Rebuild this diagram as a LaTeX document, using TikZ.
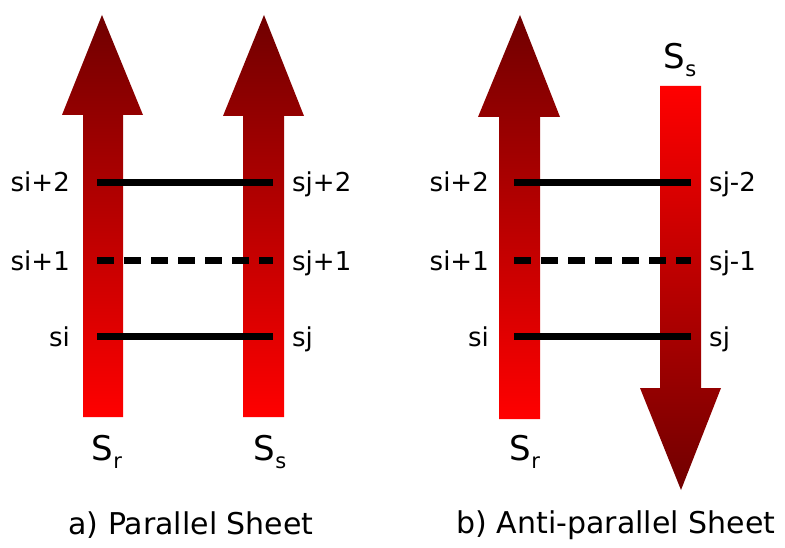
\documentclass[tikz,border=0pt]{standalone}
\usepackage{fontspec}
\setmainfont{DejaVu Sans}
\definecolor{headred}{RGB}{112,0,0}
\definecolor{tailred}{RGB}{255,0,0}
\newcommand{\strand}[2]{{\fontsize{34}{34}\selectfont #1}\raisebox{-8pt}{\fontsize{21}{21}\selectfont #2}}

\begin{document}
\begin{tikzpicture}[x=1pt, y=-1pt,
  res/.style={font=\fontsize{26}{26}\selectfont, inner sep=0pt},
  hbond/.style={line width=7pt},
  weak/.style={hbond, dash pattern=on 17pt off 10pt},
  sheetcap/.style={font=\fontsize{30}{30}\selectfont, inner sep=0pt}]
  \useasboundingbox (0,0) rectangle (785,548);
  % a) beide Stränge zeigen nach oben
  \shade[top color=headred, bottom color=tailred]
    (83,417)--(83,115)--(62,115)--(102,15)--(143,115)--(123,115)--(123,417)--cycle;
  \shade[top color=headred, bottom color=tailred]
    (243,417)--(243,116)--(223,116)--(264,15)--(304,116)--(284,116)--(284,417)--cycle;
  % b) zweiter Strang zeigt nach unten
  \shade[top color=headred, bottom color=tailred]
    (499,419)--(499,117)--(478,117)--(520,15)--(560,117)--(540,117)--(540,419)--cycle;
  \shade[top color=tailred, bottom color=headred]
    (660,86)--(660,388)--(640,388)--(681,490)--(721,388)--(701,388)--(701,86)--cycle;
  % Enden der Brücken
  \coordinate (a0) at (97,336);  \coordinate (b0) at (273,336);
  \coordinate (a1) at (97,261);  \coordinate (b1) at (273,261);
  \coordinate (a2) at (97,183);  \coordinate (b2) at (273,183);
  \coordinate (c0) at (514,336); \coordinate (d0) at (691,336);
  \coordinate (c1) at (514,261); \coordinate (d1) at (691,261);
  \coordinate (c2) at (514,183); \coordinate (d2) at (691,183);
  \draw[hbond] (a0)--(b0);
  \draw[weak]  (a1)--(b1);
  \draw[hbond] (a2)--(b2);
  \draw[hbond] (c0)--(d0);
  \draw[weak]  (c1)--(d1);
  \draw[hbond] (c2)--(d2);
  % Beschriftung a)
  \node[res, anchor=base east] (si) at (70,346) {si};
  \node[res, anchor=base east] (sia) at (70,271) {si+1};
  \node[res, anchor=base east] (sib) at (70,192) {si+2};
  \node[res, anchor=base west] (sj) at (292,346) {sj};
  \node[res, anchor=base west] (sja) at (292,271) {sj+1};
  \node[res, anchor=base west] (sjb) at (292,192) {sj+2};
  \node[inner sep=0pt] (Sra) at (107,452) {\strand{S}{r}};
  \node[inner sep=0pt] (Ssa) at (270,452) {\strand{S}{s}};
  \node[sheetcap] (capa) at (191,525) {a) Parallel Sheet};
  % Beschriftung b)
  \node[res, anchor=base east] (ti) at (489,346) {si};
  \node[res, anchor=base east] (tia) at (489,271) {si+1};
  \node[res, anchor=base east] (tib) at (489,192) {si+2};
  \node[res, anchor=base west] (tj) at (709,346) {sj};
  \node[res, anchor=base west] (tja) at (709,271) {sj-1};
  \node[res, anchor=base west] (tjb) at (709,192) {sj-2};
  \node[inner sep=0pt] (Srb) at (525,452) {\strand{S}{r}};
  \node[inner sep=0pt] (Ssb) at (680,60) {\strand{S}{s}};
  \node[sheetcap] (capb) at (616,525) {b) Anti-parallel Sheet};
\end{tikzpicture}
\end{document}
